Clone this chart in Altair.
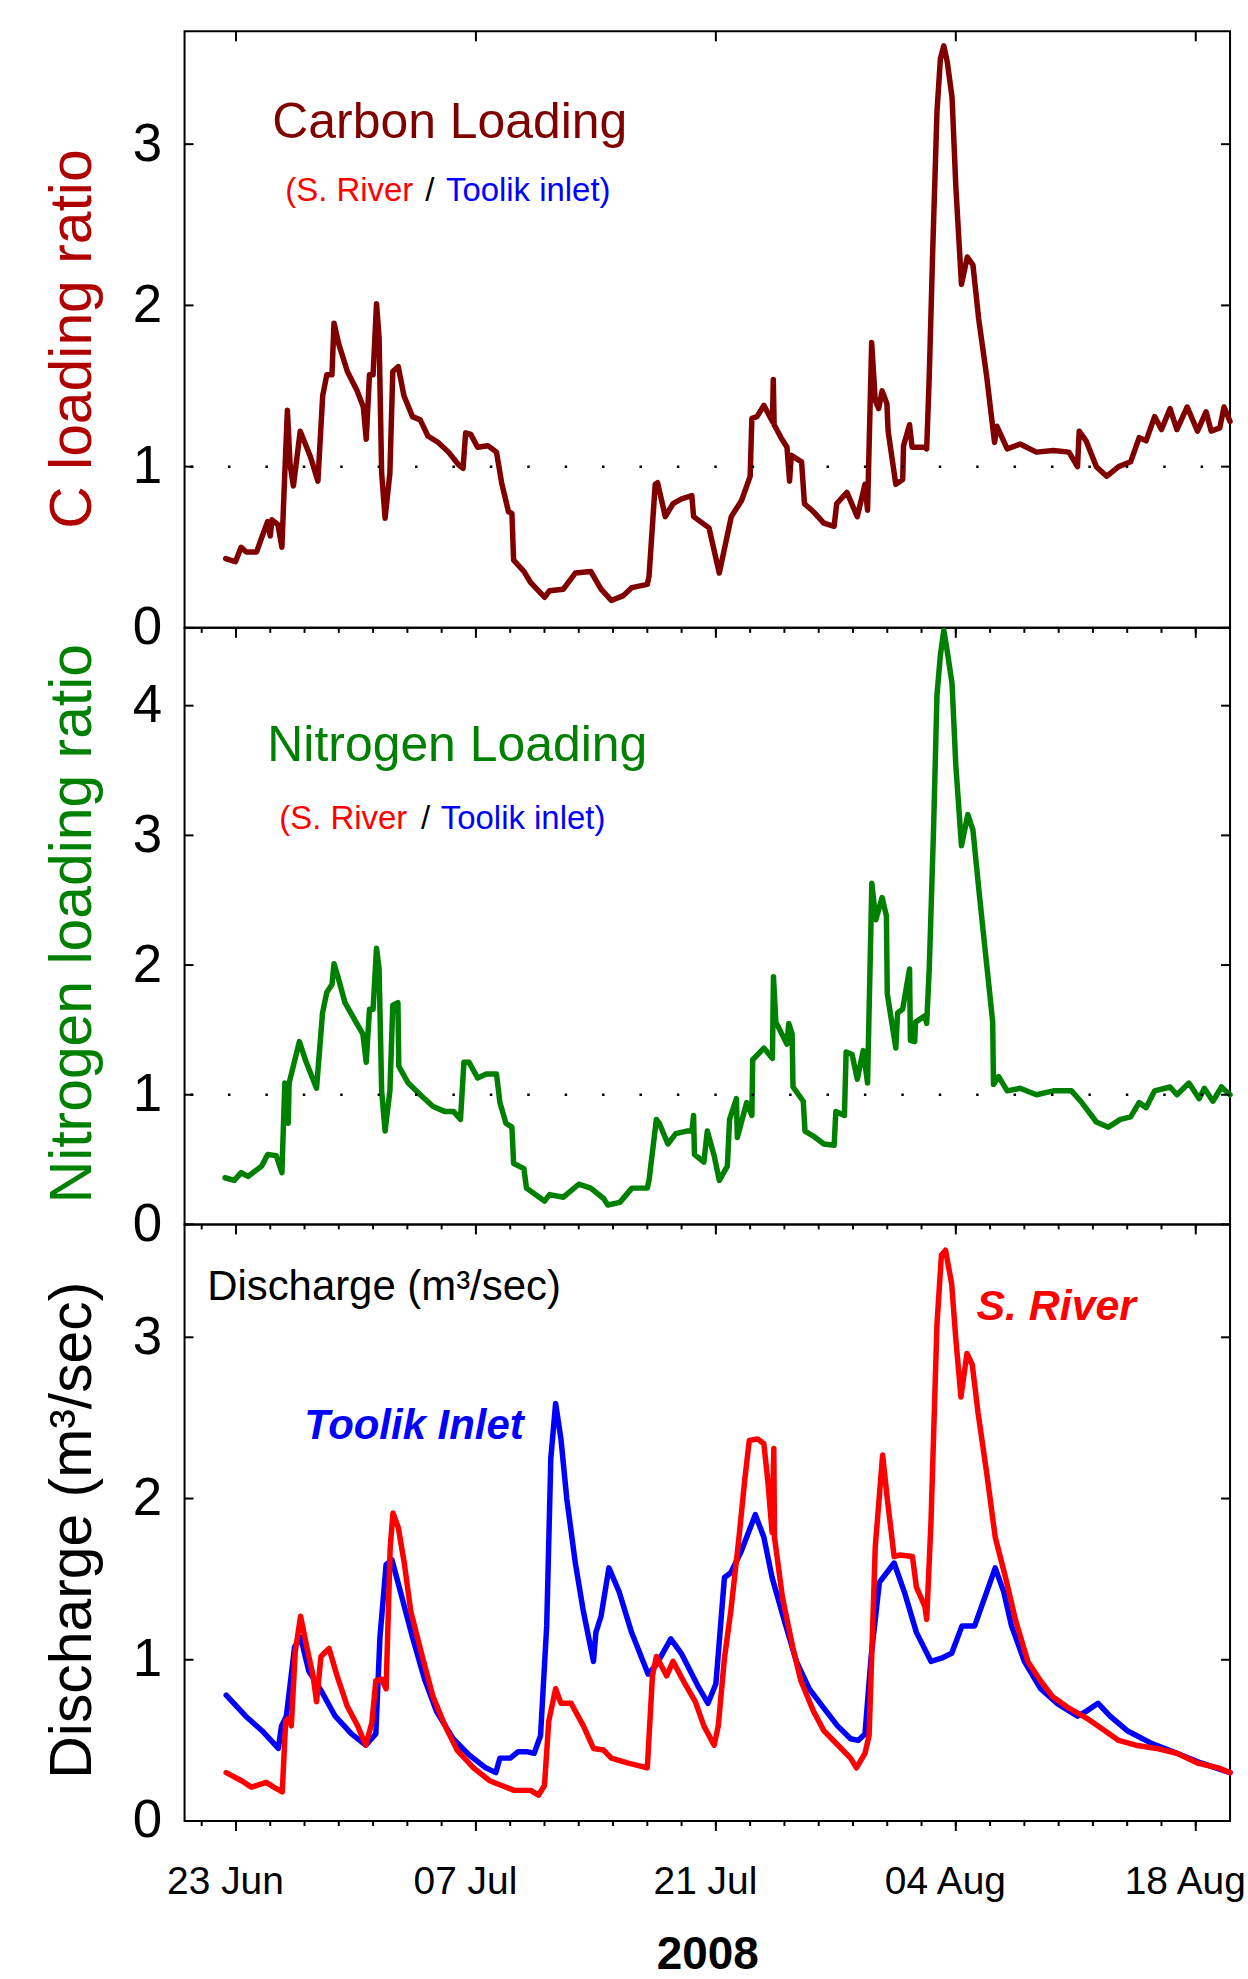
import altair as alt
import pandas as pd

BASE = pd.Timestamp("2008-06-20 00:00:00")

# ---- Carbon loading ratio (S. River / Toolik inlet), days after 20 Jun 2008
C_DAY = [2.4, 2.97, 3.3, 3.6, 4.2, 4.5, 4.85, 5.0, 5.1, 5.45, 5.68, 5.8, 6.0, 6.16, 6.35, 6.75,
         7.35, 7.78, 8.06, 8.3, 8.6, 8.72, 9.0, 9.5, 10.07, 10.43, 10.6, 10.79, 11.0, 11.2, 11.35,
         11.5, 11.7, 11.98, 12.15, 12.47, 12.8, 13.3, 13.75, 14.2, 14.8, 15.4, 16.0, 16.25, 16.4,
         16.7, 17.1, 17.7, 18.2, 18.5, 18.9, 19.1, 19.2, 19.8, 20.2, 21.0, 21.3, 22.1, 22.8, 23.7,
         24.3, 24.9, 25.6, 26.1, 27.0, 27.1, 27.46, 27.6, 28.05, 28.5, 29.0, 29.6, 29.7, 30.6,
         31.2, 31.9, 32.5, 33.0, 33.1, 33.4, 33.8, 34.3, 34.35, 34.4, 34.55, 34.8, 35.15, 35.3,
         35.4, 36.0, 36.17, 36.7, 37.3, 37.9, 38.05, 38.65, 39.25, 39.7, 39.85, 40.09, 40.3, 40.5,
         40.7, 40.98, 41.05, 41.5, 41.9, 41.95, 42.3, 42.45, 43.2, 43.3, 43.45, 43.65, 43.9, 44.1,
         44.3, 44.5, 44.78, 45.0, 45.33, 45.67, 46.0, 46.33, 46.8, 47.26, 47.4, 48.0, 48.75, 49.7,
         50.7, 51.6, 52.1, 52.2, 52.6, 53.2, 53.8, 54.5, 55.2, 55.7, 56.1, 56.6, 57.0, 57.5, 57.9,
         58.5, 59.1, 59.6, 59.9, 60.4, 60.65, 61.0]
C_VAL = [0.43, 0.41, 0.50, 0.47, 0.47, 0.56, 0.66, 0.57, 0.67, 0.64, 0.50, 0.83, 1.35, 1.01, 0.88, 1.22,
         1.06, 0.91, 1.44, 1.57, 1.57, 1.89, 1.76, 1.59, 1.47, 1.37, 1.17, 1.57, 1.57, 2.01, 1.80,
         0.96, 0.68, 0.96, 1.59, 1.62, 1.44, 1.31, 1.29, 1.19, 1.15, 1.09, 1.01, 0.99, 1.21,
         1.20, 1.12, 1.13, 1.09, 0.90, 0.72, 0.71, 0.42, 0.35, 0.28, 0.19, 0.23, 0.24, 0.34, 0.35,
         0.24, 0.17, 0.20, 0.25, 0.27, 0.32, 0.89, 0.90, 0.69, 0.77, 0.80, 0.82, 0.69, 0.62,
         0.34, 0.69, 0.79, 0.94, 1.30, 1.31, 1.38, 1.28, 1.54, 1.26, 1.23, 1.18, 1.12, 0.91,
         1.07, 1.03, 0.77, 0.72, 0.65, 0.63, 0.77, 0.84, 0.69, 0.89, 0.73, 1.77, 1.41, 1.36,
         1.47, 1.39, 1.22, 0.89, 0.92, 1.13, 1.26, 1.12, 1.12, 1.11, 1.56, 2.33, 3.20, 3.53,
         3.61, 3.51, 3.29, 2.74, 2.13, 2.30, 2.25, 1.92, 1.56, 1.15, 1.25, 1.11, 1.14, 1.09,
         1.10, 1.09, 1.00, 1.22, 1.16, 1.00, 0.94, 1.00, 1.03, 1.18, 1.16, 1.31, 1.23, 1.36, 1.23,
         1.37, 1.22, 1.34, 1.22, 1.24, 1.37, 1.28]

# ---- Nitrogen loading ratio
N_DAY = [2.36, 2.9, 3.3, 3.7, 4.5, 4.85, 5.35, 5.68, 5.85, 5.95, 6.05, 6.1, 6.7, 7.1, 7.7, 8.05, 8.3,
         8.6, 8.72, 8.95, 9.36, 9.96, 10.4, 10.6, 10.79, 11.0, 11.2, 11.35, 11.5, 11.7, 11.98, 12.15,
         12.45, 12.5, 13.05, 13.75, 14.5, 15.2, 15.7, 16.1, 16.3, 16.6, 17.1, 17.6, 18.2, 18.4,
         18.75, 19.1, 19.2, 19.8, 19.95, 21.0, 21.3, 22.1, 23.0, 23.7, 24.45, 24.7, 25.4, 26.1,
         27.0, 27.1, 27.53, 27.7, 28.2, 28.66, 29.3, 29.6, 29.7, 29.75, 30.3, 30.5, 30.9, 31.2,
         31.67, 31.8, 32.2, 32.25, 32.8, 33.1, 33.15, 33.8, 34.3, 34.36, 34.5, 35.15, 35.25, 35.45,
         35.5, 36.1, 36.2, 36.7, 37.3, 37.9, 38.0, 38.5, 38.6, 38.95, 39.25, 39.6, 39.85, 40.1,
         40.33, 40.7, 40.95, 41.0, 41.5, 41.6, 41.9, 42.3, 42.35, 42.6, 42.65, 43.2, 43.3, 43.45,
         43.7, 43.9, 44.1, 44.3, 44.5, 44.78, 45.0, 45.33, 45.7, 46.0, 46.33, 46.7, 47.05, 47.15,
         47.2, 47.5, 48.0, 48.75, 49.7, 50.7, 51.75, 52.35, 53.2, 53.9, 54.6, 55.2, 55.7, 56.1,
         56.6, 57.5, 57.9, 58.6, 59.2, 59.5, 60.0, 60.5, 61.0]
N_VAL = [0.36, 0.34, 0.40, 0.37, 0.45, 0.54, 0.53, 0.40, 1.09, 0.94, 0.78, 1.09, 1.41, 1.25, 1.05, 1.63, 1.79,
         1.85, 2.01, 1.91, 1.71, 1.57, 1.47, 1.25, 1.66, 1.66, 2.13, 1.97, 1.03, 0.72, 1.03, 1.69,
         1.71, 1.22, 1.09, 1.00, 0.91, 0.87, 0.87, 0.81, 1.25, 1.25, 1.13, 1.16, 1.16, 0.94,
         0.78, 0.75, 0.47, 0.43, 0.28, 0.18, 0.23, 0.21, 0.31, 0.28, 0.20, 0.15, 0.17, 0.28,
         0.28, 0.34, 0.81, 0.78, 0.62, 0.70, 0.72, 0.72, 0.84, 0.54, 0.48, 0.72, 0.53, 0.34,
         0.45, 0.81, 0.97, 0.67, 0.94, 0.84, 1.27, 1.36, 1.28, 1.91, 1.56, 1.39, 1.55, 1.47,
         1.06, 0.95, 0.72, 0.68, 0.62, 0.61, 0.87, 0.84, 1.33, 1.31, 1.12, 1.34, 1.09, 2.63,
         2.35, 2.52, 2.38, 1.78, 1.36, 1.63, 1.66, 1.97, 1.42, 1.41, 1.56, 1.61, 1.55, 1.97,
         3.04, 4.08, 4.39, 4.58, 4.42, 4.17, 3.54, 2.92, 3.16, 3.04, 2.60, 2.13, 1.69, 1.56,
         1.08, 1.14, 1.03, 1.05, 1.00, 1.03, 1.03, 0.94, 0.79, 0.75, 0.81, 0.83, 0.94, 0.90,
         1.03, 1.06, 1.00, 1.09, 0.97, 1.05, 0.95, 1.06, 1.00]

# ---- Discharge, Toolik Inlet (m3/sec)
T_DAY = [2.43, 3.57, 4.52, 5.47, 5.66, 5.94, 6.42, 6.77, 7.25, 7.96, 8.79, 9.74, 10.57, 11.16, 11.4,
         11.76, 12.1, 12.6, 13.3, 14.0, 14.7, 15.67, 16.6, 17.57, 18.16, 18.4, 19.0, 19.47, 19.94,
         20.4, 20.77, 21.13, 21.37, 21.65, 21.96, 22.3, 22.8, 23.27, 23.86, 24.0, 24.3, 24.76,
         25.36, 26.08, 27.05, 27.53, 28.37, 28.98, 29.94, 30.54, 31.0, 31.5, 31.87, 32.47, 33.3,
         33.8, 34.28, 35.0, 35.7, 36.45, 37.3, 38.1, 38.86, 39.3, 39.7, 40.06, 40.54, 41.4, 42.0,
         42.7, 43.55, 44.16, 44.76, 45.36, 46.1, 46.7, 47.3, 47.8, 48.25, 49.0, 49.95, 50.9, 52.1,
         52.6, 53.3, 54.0, 55.0, 56.45, 57.9, 59.3, 61.0]
T_VAL = [0.78, 0.65, 0.56, 0.45, 0.59, 0.65, 1.08, 1.14, 0.93, 0.81, 0.65, 0.54, 0.47, 0.54, 1.14,
         1.59, 1.62, 1.42, 1.14, 0.88, 0.68, 0.51, 0.41, 0.33, 0.30, 0.39, 0.39, 0.43, 0.43,
         0.42, 0.53, 1.21, 2.25, 2.59, 2.37, 2.00, 1.60, 1.30, 0.99, 1.17, 1.27, 1.57,
         1.42, 1.17, 0.91, 0.97, 1.13, 1.04, 0.84, 0.73, 0.85, 1.51, 1.54, 1.67, 1.90,
         1.76, 1.51, 1.24, 0.99, 0.82, 0.70, 0.59, 0.51, 0.50, 0.54, 1.02, 1.48, 1.60, 1.42,
         1.17, 0.99, 1.01, 1.04, 1.21, 1.21, 1.39, 1.57, 1.42, 1.21, 0.99, 0.82, 0.73, 0.65,
         0.68, 0.73, 0.65, 0.56, 0.48, 0.42, 0.36, 0.30]

# ---- Discharge, S. River (m3/sec)
R_DAY = [2.43, 3.33, 3.9, 4.76, 5.2, 5.7, 5.9, 6.1, 6.23, 6.46, 6.77, 7.13, 7.5, 7.7, 7.96, 8.43, 8.9,
         9.5, 10.1, 10.57, 10.93, 11.16, 11.5, 11.76, 12.0, 12.16, 12.47, 12.82, 13.2, 13.8, 14.5,
         15.2, 15.9, 16.86, 17.8, 18.5, 19.23, 20.2, 20.65, 21.0, 21.25, 21.65, 21.96, 22.55,
         23.27, 23.86, 24.45, 24.9, 25.84, 27.0, 27.3, 27.53, 28.13, 28.5, 29.2, 29.8, 30.3, 30.9,
         31.14, 31.5, 31.87, 32.35, 32.7, 32.95, 33.43, 33.8, 34.04, 34.28, 34.38, 34.42, 34.88,
         35.48, 35.96, 36.7, 37.3, 38.13, 38.86, 39.2, 39.7, 39.94, 40.3, 40.73, 41.0, 41.4,
         41.75, 42.47, 42.7, 43.2, 43.3, 43.55, 43.9, 44.16, 44.4, 44.76, 45.0, 45.3, 45.65,
         45.96, 46.3, 46.8, 47.3, 47.9, 48.5, 49.2, 49.94, 50.66, 51.6, 52.6, 53.55, 54.5, 55.5,
         56.7, 57.9, 59.1, 60.3, 61.0]
R_VAL = [0.30, 0.25, 0.21, 0.24, 0.21, 0.18, 0.62, 0.64, 0.59, 1.05, 1.27, 1.08, 0.90, 0.74, 1.02, 1.07, 0.90,
         0.71, 0.59, 0.47, 0.61, 0.87, 0.88, 0.82, 1.70, 1.91, 1.82, 1.60, 1.30, 1.05, 0.77,
         0.59, 0.44, 0.33, 0.25, 0.22, 0.19, 0.19, 0.16, 0.22, 0.62, 0.82, 0.73, 0.73,
         0.59, 0.45, 0.44, 0.39, 0.36, 0.33, 0.90, 1.02, 0.90, 0.99, 0.85, 0.74, 0.59, 0.47,
         0.59, 1.01, 1.30, 1.76, 2.13, 2.36, 2.37, 2.34, 2.10, 1.79, 2.31, 1.76, 1.39,
         1.08, 0.87, 0.68, 0.56, 0.47, 0.39, 0.33, 0.42, 0.53, 1.70, 2.27, 2.00, 1.64,
         1.65, 1.64, 1.45, 1.33, 1.25, 1.85, 3.08, 3.51, 3.54, 3.33, 2.99, 2.63, 2.90,
         2.83, 2.53, 2.16, 1.76, 1.51, 1.24, 0.99, 0.87, 0.77, 0.70, 0.64, 0.57, 0.50, 0.47,
         0.45, 0.42, 0.36, 0.33, 0.30]

# ---- axes
MAJOR_TICK_DAYS = [3, 17, 31, 45, 59]
MAJOR_TICK_LABELS = ["23 Jun", "07 Jul", "21 Jul", "04 Aug", "18 Aug"]
MINOR_TICK_DAYS = list(range(1, 61, 2))
C_YTICKS = [0, 1, 2, 3]
N_YTICKS = [0, 1, 2, 3, 4]
Q_YTICKS = [0, 1, 2, 3]
C_DOMAIN = [0, 3.7]
N_DOMAIN = [0, 4.6]
Q_DOMAIN = [0, 3.7]

W, H = 1048, 598
SANS = "Liberation Sans"


def iso(days):
    return [(BASE + pd.Timedelta(days=float(d))).strftime("%Y-%m-%dT%H:%M:%S") for d in days]


def dt(day):
    ts = BASE + pd.Timedelta(days=day)
    return alt.DateTime(year=ts.year, month=ts.month, date=ts.day)


XS = alt.Scale(domain=[dt(0), dt(61)])


def yaxis(vals, title, color, title_y):
    return alt.Axis(values=vals, ticks=False, domain=False, grid=False, labelFont=SANS,
                    labelFontSize=53, labelColor="black", labelPadding=23, labelFlush=False,
                    labelOverlap=False, title=title, titleFont=SANS, titleFontSize=59,
                    titleFontWeight="normal", titleColor=color, titleAngle=270,
                    titleAlign="center", titleBaseline="alphabetic", titleX=-94, titleY=title_y)


X_AXIS = alt.Axis(values=[dt(d) for d in MAJOR_TICK_DAYS],
                  labelExpr="[" + ",".join("'%s'" % s for s in MAJOR_TICK_LABELS) + "]"
                            "[indexof([" + ",".join(str(d) for d in MAJOR_TICK_DAYS) + "], "
                            "round((datum.value - datetime(2008, 5, 20)) / 86400000))]",
                  ticks=False, domain=False, grid=False, labelFont=SANS, labelFontSize=39,
                  labelColor="black", labelPadding=42, labelOffset=-11, labelFlush=False,
                  labelOverlap=False, title="2008", titleFont=SANS, titleFontSize=46,
                  titleFontWeight="bold", titleColor="black", titleBaseline="alphabetic",
                  titleAlign="center", titleX=W / 2, titleY=148)


class Panel:
    def __init__(self, dom, yax, xax=None):
        self.dom = dom
        self.yax = yax
        self.xax = xax

    def x(self):
        return alt.X("t:T", scale=XS, axis=self.xax)

    def y(self):
        return alt.Y("v:Q", scale=alt.Scale(domain=self.dom, nice=False, zero=False), axis=self.yax)

    def line(self, days, vals, color):
        df = pd.DataFrame({"t": iso(days), "v": vals})
        return alt.Chart(df).mark_line(color=color, strokeWidth=5.5, strokeJoin="round",
                                       strokeCap="round").encode(x=self.x(), y=self.y())

    def text(self, day, val, label, color, size, weight="normal", style="normal"):
        df = pd.DataFrame({"t": iso([day]), "v": [val], "s": [label]})
        return alt.Chart(df).mark_text(align="left", baseline="alphabetic", color=color, font=SANS,
                                       fontSize=size, fontWeight=weight, fontStyle=style).encode(
            x=self.x(), y=self.y(), text="s:N")

    def yticks(self, vals):
        df = pd.DataFrame({"v": vals})
        left = alt.Chart(df).mark_rule(color="black", strokeWidth=2).encode(
            y=self.y(), x=alt.value(0), x2=alt.value(9))
        right = alt.Chart(df).mark_rule(color="black", strokeWidth=2).encode(
            y=self.y(), x=alt.value(W - 9), x2=alt.value(W))
        return [left, right]

    def xticks(self, days, y0, y1):
        df = pd.DataFrame({"t": iso(days)})
        return alt.Chart(df).mark_rule(color="black", strokeWidth=2).encode(
            x=self.x(), y=alt.value(y0), y2=alt.value(y1))

    def dotted(self):
        df = pd.DataFrame({"v": [1]})
        return alt.Chart(df).mark_rule(color="black", strokeWidth=2.5, strokeDash=[2.5, 35],
                                       strokeDashOffset=10.5).encode(y=self.y())


ONE = pd.DataFrame({"k": [0]})
ext_left = alt.Chart(ONE).mark_rule(color="white", strokeWidth=1).encode(
    x=alt.value(-183.5), x2=alt.value(-183.5), y=alt.value(299), y2=alt.value(300))
ext_top = alt.Chart(ONE).mark_rule(color="white", strokeWidth=1).encode(
    x=alt.value(500), x2=alt.value(501), y=alt.value(-27), y2=alt.value(-27))

# ---------------- Panel 1: carbon
P1 = Panel(C_DOMAIN, yaxis(C_YTICKS, "C loading ratio", "#B00000", 308), None)
p1 = alt.layer(
    P1.line(C_DAY, C_VAL, "#800000"),
    ext_left, ext_top,
    P1.dotted(),
    *P1.yticks(C_YTICKS),
    P1.xticks(MAJOR_TICK_DAYS, 0, 10),
    P1.text(5.12, 3.04, "Carbon Loading", "#800000", 50),
    P1.text(5.88, 2.65, "(S. River", "#FF0000", 33),
    P1.text(14.05, 2.65, "/", "black", 33),
    P1.text(15.25, 2.65, "Toolik inlet)", "#0000FF", 33),
).properties(width=W, height=H)

# ---------------- Panel 2: nitrogen
P2 = Panel(N_DOMAIN, yaxis(N_YTICKS, "Nitrogen loading ratio", "#008000", 296), None)
p2 = alt.layer(
    P2.line(N_DAY, N_VAL, "#008000"),
    ext_left,
    P2.dotted(),
    *P2.yticks(N_YTICKS),
    P2.xticks(MINOR_TICK_DAYS, 0, 5),
    P2.xticks(MAJOR_TICK_DAYS, 0, 10),
    P2.text(4.83, 3.57, "Nitrogen Loading", "#008000", 50),
    P2.text(5.53, 3.05, "(S. River", "#FF0000", 33),
    P2.text(13.8, 3.05, "/", "black", 33),
    P2.text(14.95, 3.05, "Toolik inlet)", "#0000FF", 33),
).properties(width=W, height=H)

# ---------------- Panel 3: discharge
P3 = Panel(Q_DOMAIN, yaxis(Q_YTICKS, "Discharge (m³/sec)", "black", 306), X_AXIS)
p3 = alt.layer(
    P3.line(T_DAY, T_VAL, "#0000FF"),
    P3.line(R_DAY, R_VAL, "#FF0000"),
    ext_left,
    *P3.yticks(Q_YTICKS),
    P3.xticks(MINOR_TICK_DAYS, 0, 5),
    P3.xticks(MAJOR_TICK_DAYS, 0, 10),
    P3.xticks(MINOR_TICK_DAYS, H, H + 5),
    P3.xticks(MAJOR_TICK_DAYS, H, H + 10),
    P3.text(1.32, 3.23, "Discharge (m³/sec)", "black", 42),
    P3.text(6.98, 2.37, "Toolik Inlet", "#0000FF", 42, "bold", "italic"),
    P3.text(46.2, 3.11, "S. River", "#FF0000", 43, "bold", "italic"),
).properties(width=W, height=H)

chart = alt.vconcat(p1, p2, p3, spacing=0, bounds="flush").properties(
    padding=0, background="white"
).configure_view(stroke="black", strokeWidth=2)

chart.save("out.html", embed_options={"renderer": "svg", "actions": False})
